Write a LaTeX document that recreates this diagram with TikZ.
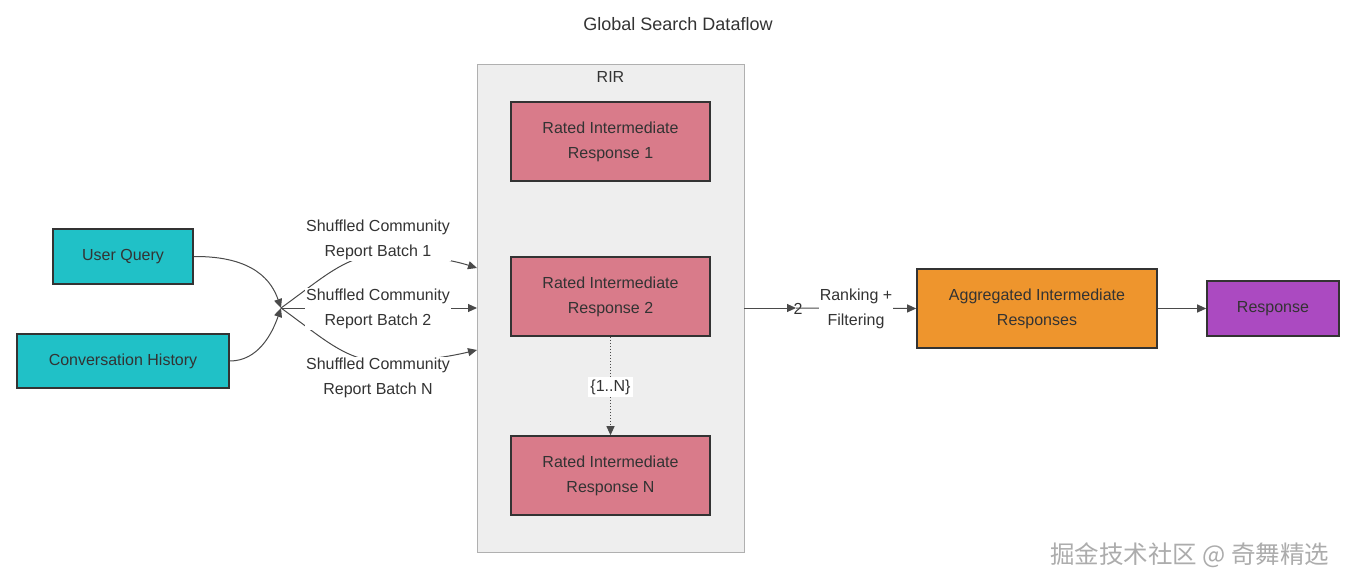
\documentclass[tikz,border=0pt]{standalone}
\usepackage{fontspec}
\setmainfont{Liberation Sans}
\newfontfamily\cjk{Noto Sans CJK SC}
\usetikzlibrary{arrows.meta}
\definecolor{tealc}{HTML}{20C1C7}
\definecolor{pinkc}{HTML}{D97B8A}
\definecolor{orangec}{HTML}{EE952D}
\definecolor{purplec}{HTML}{AB4AC1}
\definecolor{clusterc}{HTML}{EEEEEE}
\definecolor{clusterb}{HTML}{B0B0B0}
\definecolor{boxline}{HTML}{333333}
\definecolor{txt}{HTML}{333333}
\definecolor{edgec}{HTML}{4A4A4A}
\tikzset{
  box/.style={draw=boxline, line width=1.6pt, text=txt, align=center, inner sep=0pt,
    font=\fontsize{16}{25}\selectfont},
  cluster/.style={draw=clusterb, fill=clusterc, line width=1pt, inner sep=0pt},
  lbl/.style={fill=white, text=txt, align=center, inner sep=1pt,
    font=\fontsize{16}{25}\selectfont},
  edge/.style={draw=edgec, line width=1pt, -{Triangle[length=9pt,width=8pt]}, color=edgec},
}
\begin{document}
\begin{tikzpicture}[x=1pt,y=-1pt]
\useasboundingbox[fill=white] (0,0) rectangle (1351,588);

\node[text=txt, font=\fontsize{18}{20}\selectfont] (title) at (678,24) {Global Search Dataflow};

% cluster
\node[cluster, minimum width=267pt, minimum height=487pt] (rir) at (610.5,308.5) {};
\node[text=txt, font=\fontsize{16}{20}\selectfont] (rirlab) at (610.5,76.5) {RIR};

% nodes
\node[box, fill=tealc, minimum width=140pt, minimum height=55pt] (uq) at (123,256.5) {User Query};
\node[box, fill=tealc, minimum width=212pt, minimum height=54pt] (ch) at (123,361) {Conversation History};
\node[box, fill=pinkc, minimum width=199pt, minimum height=79pt] (r1) at (610.5,141.5) {Rated Intermediate\\Response 1};
\node[box, fill=pinkc, minimum width=199pt, minimum height=79pt] (r2) at (610.5,296.5) {Rated Intermediate\\Response 2};
\node[box, fill=pinkc, minimum width=199pt, minimum height=79pt] (rn) at (610.5,475.5) {Rated Intermediate\\Response N};
\node[box, fill=orangec, minimum width=240pt, minimum height=79pt] (agg) at (1037,308.5) {Aggregated Intermediate\\Responses};
\node[box, fill=purplec, minimum width=132pt, minimum height=55pt] (resp) at (1273,308.5) {Response};

% coordinates
\coordinate (j) at (281,308);
\coordinate (e1) at (477,268);
\coordinate (e2) at (477,308);
\coordinate (e3) at (477,350);
\coordinate (c2) at (744,308);
\coordinate (m2) at (796,308);

% inputs into junction
\draw[edge] (uq.east) .. controls (255,256) and (272,282) .. (j);
\draw[edge] (ch.east) .. controls (258,361) and (272,334) .. (j);

% junction to cluster
\draw[edge] (j) .. controls (320,280) and (345,256) .. (378,255) .. controls (420,254) and (452,260) .. (e1);
\draw[edge] (j) -- (e2);
\draw[edge] (j) .. controls (320,336) and (345,360) .. (378,361) .. controls (420,362) and (452,356) .. (e3);

\node[lbl] (b1) at (378,240) {Shuffled Community\\Report Batch 1};
\node[lbl] (b2) at (378,309) {Shuffled Community\\Report Batch 2};
\node[lbl] (bn) at (378,377.5) {Shuffled Community\\Report Batch N};

% inside cluster
\draw[edge, dotted] (r2.south) -- (rn.north);
\node[lbl, inner sep=2.5pt] (rng) at (610.5,387) {\{1..N\}};

% cluster to aggregated
\draw[edge] (c2) -- (m2);
\node[text=txt, font=\fontsize{16}{20}\selectfont, inner sep=0pt] (two) at (798,309) {2};
\draw[edge] (m2) -- (agg.west);
\node[lbl] (rf) at (856,309) {Ranking +\\Filtering};

\draw[edge] (agg.east) -- (resp.west);

% watermark
\node[text=gray!65, font=\cjk\fontsize{24.5}{26}\selectfont, anchor=east] (wm) at (1333,555) {掘金技术社区 @ 奇舞精选};
\end{tikzpicture}
\end{document}
